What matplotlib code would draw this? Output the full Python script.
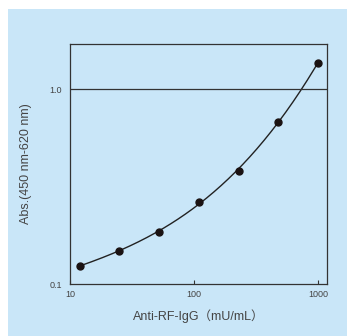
import numpy as np
import matplotlib.pyplot as plt
from matplotlib.patches import Rectangle

# data
conc = [12.0, 25.0, 52.0, 109.0, 229.0, 475.0, 1000.0]   # mU/mL
absorb = [0.124, 0.148, 0.186, 0.263, 0.381, 0.683, 1.37]
xticks = [10, 100, 1000]
yticks = [0.1, 1.0]
ytick_labels = ['0.1', '1.0']

bg = '#c9e6f8'
txt = '#444444'

plt.rcParams['font.family'] = ['Liberation Sans', 'Noto Sans CJK JP', 'DejaVu Sans']

fig = plt.figure(figsize=(3.47, 3.36), dpi=100, facecolor='white')
fig.patches.append(Rectangle((8/347, 0), 1, 1 - 9/336, transform=fig.transFigure,
                             facecolor=bg, edgecolor='none', zorder=-1))

ax = fig.add_axes([70/347, 1 - 284/336, 257/347, 240/336])
ax.set_facecolor(bg)

# fitted curve in log-log space
lx, ly = np.log10(conc), np.log10(absorb)
c = np.polyfit(lx, ly, 3)
xx = np.linspace(lx[0], lx[-1], 200)
ax.plot(10**xx, 10**np.polyval(c, xx), color='#222222', lw=1)
ax.plot(conc, absorb, 'o', color='#1a1212', ms=5)

ax.axhline(1.0, color='#333333', lw=0.9)

ax.set_xscale('log')
ax.set_yscale('log')
ax.set_xlim(10, 1180)
ax.set_ylim(0.1, 1.71)
ax.set_xticks(xticks)
ax.set_xticklabels([str(t) for t in xticks])
ax.set_yticks(yticks)
ax.set_yticklabels(ytick_labels)
ax.minorticks_off()
ax.tick_params(axis='x', direction='in', length=3, width=0.8, color='#333333',
               labelsize=6.5, labelcolor=txt, pad=4)
ax.tick_params(axis='y', length=0, labelsize=6.5, labelcolor=txt, pad=6)
for s in ax.spines.values():
    s.set_color('#333333')
    s.set_linewidth(0.9)

ax.set_xlabel('Anti-RF-IgG（mU/mL）', fontsize=9, color=txt, labelpad=8)
ax.set_ylabel('Abs.(450 nm-620 nm)', fontsize=9, color=txt)
ax.yaxis.set_label_coords(-0.148, 0.5)

fig.savefig('out.png', dpi=100, facecolor='white')
